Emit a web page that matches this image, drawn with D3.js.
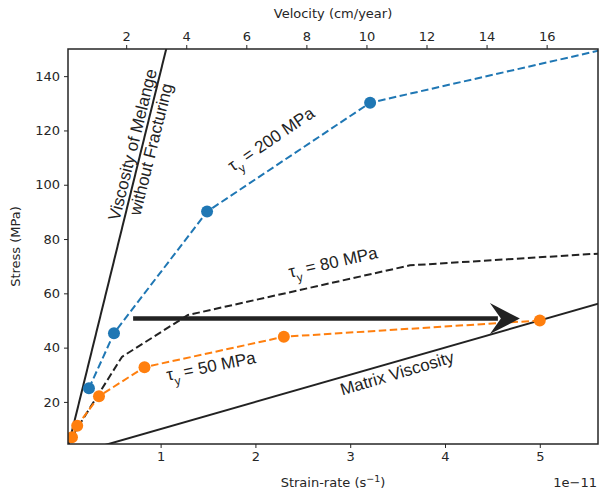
<!DOCTYPE html>
<html>
<head>
<meta charset="utf-8">
<script src="https://cdn.jsdelivr.net/npm/d3@7"></script>
<style>
  body { margin: 0; background: #fff; }
  svg { display: block; }
  .tick text { font-family: "DejaVu Sans", sans-serif; font-size: 13px; fill: #262626; }
  .tick line { stroke: #262626; }
</style>
</head>
<body>
<div id="chart"></div>
<script>
// strain-rate in units of 1e-11 s^-1, stress in MPa
const blueX = [0.244, 0.508, 1.49, 3.21, 6.2];
const blueY = [25, 45.3, 90.1, 130.2, 154];
const blackX = [0.07, 0.592, 1.288, 3.63, 6.2];
const blackY = [7.5, 36.6, 52.0, 70.3, 75.9];
const orangeX = [0.065, 0.12, 0.35, 0.83, 2.3, 5.0];
const orangeY = [7.0, 11.2, 22.1, 32.8, 44.0, 50.0];

// reference viscosity lines through the origin
const melangeX = [0, 1.2];
const melangeY = [0, 170];
const matrixX = [0, 6];
const matrixY = [0, 60];

// arrow
const arrowX = [0.71, 4.79];
const arrowY = [50.7, 50.7];

const xTicks = [1, 2, 3, 4, 5];
const yTicks = [20, 40, 60, 80, 100, 120, 140];
const velTicks = [2, 4, 6, 8, 10, 12, 14, 16];

const width = 599, height = 495;
const margin = {top: 49, right: 1, bottom: 51, left: 68};

const svg = d3.select("#chart").append("svg")
    .attr("width", width)
    .attr("height", height);

const x = d3.scaleLinear().domain([0.023, 5.614]).range([margin.left, width - margin.right]);
const xTop = d3.scaleLinear().domain([0.063, 17.71]).range([margin.left, width - margin.right]);
const y = d3.scaleLinear().domain([4.5, 150]).range([height - margin.bottom, margin.top]);

svg.append("clipPath").attr("id", "plot-clip")
  .append("rect")
    .attr("x", margin.left)
    .attr("y", margin.top)
    .attr("width", width - margin.left - margin.right)
    .attr("height", height - margin.top - margin.bottom);

const plot = svg.append("g").attr("clip-path", "url(#plot-clip)");

const zip = (xs, ys) => xs.map((v, i) => [v, ys[i]]);
const line = d3.line().x(d => x(d[0])).y(d => y(d[1]));

// solid viscosity lines
[zip(melangeX, melangeY), zip(matrixX, matrixY)].forEach(pts => {
    plot.append("path")
        .attr("d", line(pts))
        .attr("fill", "none")
        .attr("stroke", "#222")
        .attr("stroke-width", 2);
});

// dashed yield-stress curves
const series = [
    {pts: zip(blackX, blackY), color: "#222", markers: false},
    {pts: zip(blueX, blueY), color: "#1f77b4", markers: true},
    {pts: zip(orangeX, orangeY), color: "#ff7f0e", markers: true}
];

series.forEach(s => {
    plot.append("path")
        .attr("d", line(s.pts))
        .attr("fill", "none")
        .attr("stroke", s.color)
        .attr("stroke-width", 2)
        .attr("stroke-dasharray", "7.5,3.5");
});

// arrow
const ax0 = x(arrowX[0]), ax1 = x(arrowX[1]), ay = y(arrowY[0]);
plot.append("line")
    .attr("x1", ax0).attr("x2", ax1 - 22)
    .attr("y1", ay).attr("y2", ay)
    .attr("stroke", "#222")
    .attr("stroke-width", 4.5);
plot.append("path")
    .attr("d", `M${ax1},${ay} L${ax1 - 30},${ay - 15.5} L${ax1 - 19},${ay} L${ax1 - 30},${ay + 15.5} Z`)
    .attr("fill", "#222");

series.filter(s => s.markers).forEach(s => {
    plot.selectAll(null)
        .data(s.pts.filter(d => d[0] <= x.domain()[1]))
        .enter().append("circle")
        .attr("cx", d => x(d[0]))
        .attr("cy", d => y(d[1]))
        .attr("r", 6)
        .attr("fill", s.color);
});

// axes
const axisBottom = svg.append("g")
    .attr("transform", `translate(0,${height - margin.bottom})`)
    .call(d3.axisBottom(x).tickValues(xTicks).tickFormat(d3.format("d")).tickSize(4).tickPadding(4));
const axisLeft = svg.append("g")
    .attr("transform", `translate(${margin.left},0)`)
    .call(d3.axisLeft(y).tickValues(yTicks).tickSize(4).tickPadding(4));
const axisTop = svg.append("g")
    .attr("transform", `translate(0,${margin.top})`)
    .call(d3.axisTop(xTop).tickValues(velTicks).tickSize(4).tickPadding(4));
[axisBottom, axisLeft, axisTop].forEach(g => g.select(".domain").remove());

svg.append("rect")
    .attr("x", margin.left)
    .attr("y", margin.top)
    .attr("width", width - margin.left - margin.right)
    .attr("height", height - margin.top - margin.bottom)
    .attr("fill", "none")
    .attr("stroke", "#262626")
    .attr("stroke-width", 1.5);

// axis labels
const labelFont = "'DejaVu Sans', sans-serif";
svg.append("text")
    .attr("x", (margin.left + width - margin.right) / 2)
    .attr("y", 18)
    .attr("text-anchor", "middle")
    .attr("font-family", labelFont).attr("font-size", 13).attr("fill", "#262626")
    .text("Velocity (cm/year)");

const xl = svg.append("text")
    .attr("x", (margin.left + width - margin.right) / 2)
    .attr("y", 487)
    .attr("text-anchor", "middle")
    .attr("font-family", labelFont).attr("font-size", 13).attr("fill", "#262626");
xl.append("tspan").text("Strain-rate (s");
xl.append("tspan").attr("dy", -5).attr("font-size", 9.5).text("\u22121");
xl.append("tspan").attr("dy", 5).text(")");

svg.append("text")
    .attr("x", width - 2)
    .attr("y", 487)
    .attr("text-anchor", "end")
    .attr("font-family", labelFont).attr("font-size", 13).attr("fill", "#262626")
    .text("1e\u221211");

svg.append("text")
    .attr("transform", `translate(20,${(margin.top + height - margin.bottom) / 2}) rotate(-90)`)
    .attr("text-anchor", "middle")
    .attr("font-family", labelFont).attr("font-size", 13).attr("fill", "#262626")
    .text("Stress (MPa)");

// annotations
const annFont = "'Liberation Sans', Arial, sans-serif";
function tauLabel(cx, cy, angle, value) {
    const t = svg.append("text")
        .attr("transform", `translate(${cx},${cy}) rotate(${angle})`)
        .attr("text-anchor", "middle")
        .attr("dy", "0.35em")
        .attr("font-family", annFont).attr("font-size", 17).attr("fill", "#222");
    t.append("tspan").text("\u03c4");
    t.append("tspan").attr("dy", 6).attr("font-size", 12).text("y");
    t.append("tspan").attr("dy", -6).text(` = ${value} MPa`);
}
tauLabel(271, 139, -34, 200);
tauLabel(333, 262, -12.5, 80);
tauLabel(211, 366, -11.5, 50);

svg.append("text")
    .attr("transform", "translate(397,373) rotate(-16.5)")
    .attr("text-anchor", "middle")
    .attr("dy", "0.35em")
    .attr("font-family", annFont).attr("font-size", 17).attr("fill", "#222")
    .text("Matrix Viscosity");

const mel = svg.append("text")
    .attr("transform", "translate(142,147) rotate(-76)")
    .attr("text-anchor", "middle")
    .attr("font-family", annFont).attr("font-size", 17).attr("fill", "#222");
mel.append("tspan").attr("x", 0).attr("y", -4).text("Viscosity of Melange");
mel.append("tspan").attr("x", 0).attr("y", 15).text("without Fracturing");
</script>
</body>
</html>
